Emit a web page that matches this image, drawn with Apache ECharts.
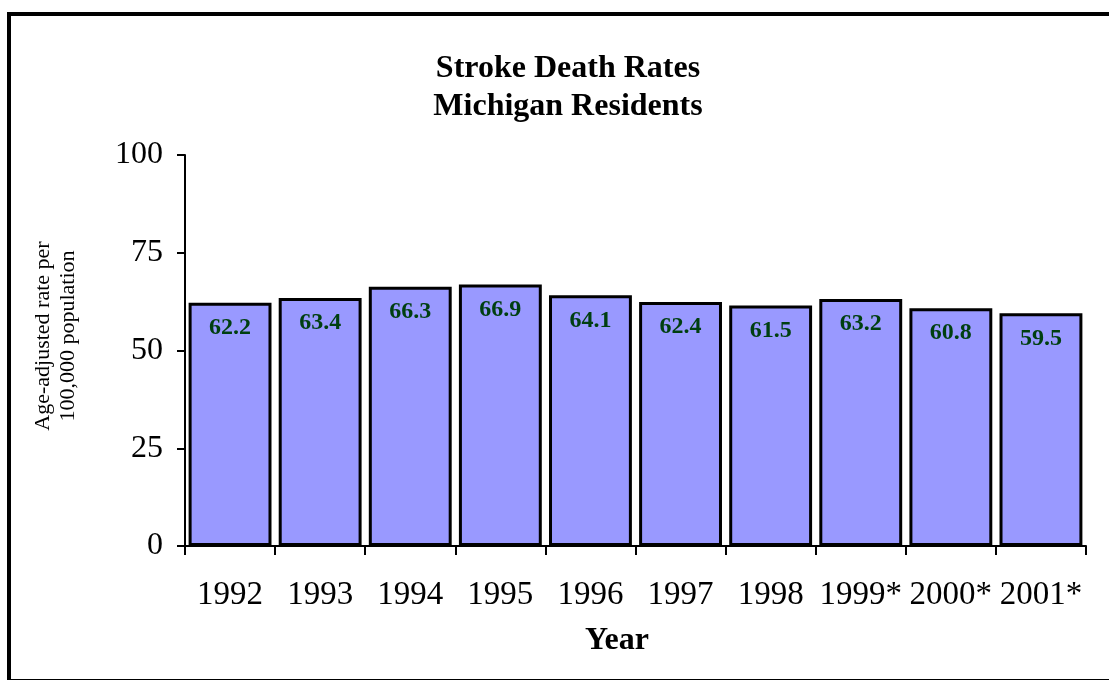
<!DOCTYPE html>
<html>
<head>
<meta charset="utf-8">
<script src="https://cdn.jsdelivr.net/npm/echarts@6/dist/echarts.min.js"></script>
<style>
  html, body { margin: 0; padding: 0; background: #fff; }
  .frame {
    position: absolute;
    left: 7px;
    top: 12px;
    width: 1102px;
    height: 663px;
    border-left: 4px solid #000;
    border-top: 4px solid #000;
    border-bottom: 1px solid #000;
  }
  #main { position: absolute; left: 0; top: 0; width: 1109px; height: 680px; }
</style>
</head>
<body>
<div class="frame"></div>
<div id="main"></div>
<script>
// 数据
const years = ['1992', '1993', '1994', '1995', '1996', '1997', '1998', '1999*', '2000*', '2001*'];
const rates = [62.2, 63.4, 66.3, 66.9, 64.1, 62.4, 61.5, 63.2, 60.8, 59.5];
const yTicks = [0, 25, 50, 75, 100];

const serif = '"Liberation Serif", "DejaVu Serif", serif';

const myChart = echarts.init(document.getElementById('main'));
myChart.setOption({
  animation: false,
  title: {
    text: 'Stroke Death Rates\nMichigan Residents',
    left: 563,
    textAlign: 'center',
    top: 45,
    textStyle: {
      fontFamily: serif,
      fontSize: 32,
      fontWeight: 'bold',
      color: '#000',
      lineHeight: 38,
    },
  },
  graphic: [
    {
      // y轴标题
      type: 'text',
      x: 56,
      y: 336,
      rotation: Math.PI / 2,
      style: {
        text: 'Age-adjusted rate per\n100,000 population',
        fontFamily: serif,
        fontSize: 22,
        lineHeight: 25,
        fill: '#000',
        align: 'center',
        verticalAlign: 'middle',
      },
    },
    {
      // x轴标题
      type: 'text',
      x: 617,
      y: 641,
      style: {
        text: 'Year',
        fontFamily: serif,
        fontSize: 32,
        fontWeight: 'bold',
        fill: '#000',
        align: 'center',
        verticalAlign: 'middle',
      },
    },
  ],
  grid: {
    left: 185,
    right: 23,
    top: 155,
    bottom: 134,
  },
  xAxis: {
    type: 'category',
    data: years,
    axisLine: { lineStyle: { color: '#000', width: 2 } },
    axisTick: { show: true, interval: 0, length: 9, lineStyle: { color: '#000', width: 2 } },
    axisLabel: {
      interval: 0,
      fontFamily: serif,
      fontSize: 33,
      color: '#000',
      margin: 33,
    },
  },
  yAxis: {
    type: 'value',
    min: yTicks[0],
    max: yTicks[yTicks.length - 1],
    interval: 25,
    axisLine: { show: true, lineStyle: { color: '#000', width: 2 } },
    axisTick: { show: true, length: 8, lineStyle: { color: '#000', width: 2 } },
    splitLine: { show: false },
    axisLabel: {
      fontFamily: serif,
      fontSize: 32,
      color: '#000',
      margin: 22,
    },
  },
  series: [
    {
      type: 'bar',
      data: rates,
      barCategoryGap: '8%',
      itemStyle: {
        color: '#9999ff',
        borderColor: '#000',
        borderWidth: 3,
      },
      label: {
        show: true,
        position: 'insideTop',
        distance: 13,
        fontFamily: serif,
        fontSize: 24,
        fontWeight: 'bold',
        color: '#003f10',
      },
    },
  ],
});
</script>
</body>
</html>
